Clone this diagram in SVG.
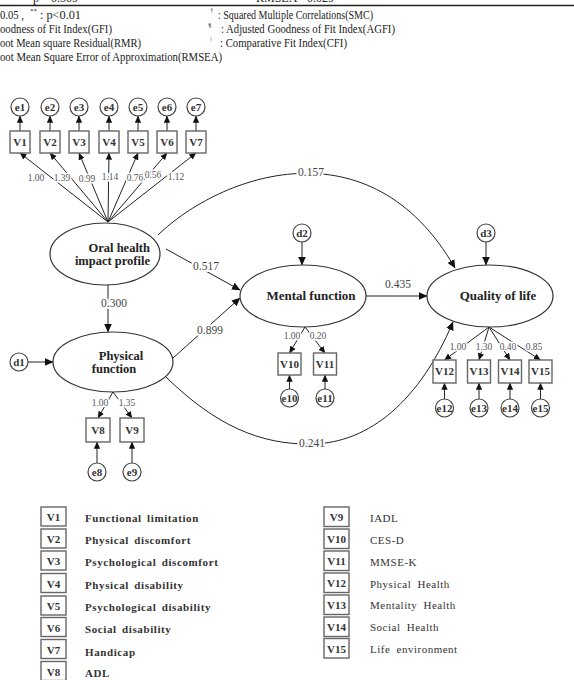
<svg xmlns="http://www.w3.org/2000/svg" width="574" height="680" viewBox="0 0 574 680">
<style>
text{font-family:"Liberation Serif","DejaVu Serif",serif;fill:#222}
.hd{font-size:12px}
.sup{font-size:7px}
.nd{font-size:13px;font-weight:bold;text-anchor:middle}
.bx{fill:#fff;stroke:#666;stroke-width:1.4}
.ci{fill:#fff;stroke:#444;stroke-width:1.2}
.bt{font-size:11px;font-weight:bold;text-anchor:middle;fill:#333}
.el{fill:#fff;stroke:#333;stroke-width:1.2}
.ln{fill:none;stroke:#222;stroke-width:1}
.lb{font-size:11.5px;text-anchor:middle;fill:#444;stroke:#fff;stroke-width:4;paint-order:stroke}
.cl{font-size:9.5px;text-anchor:middle;fill:#555;stroke:#fff;stroke-width:3;paint-order:stroke}
.lg{font-size:11px;font-weight:bold;letter-spacing:0.6px;word-spacing:2px;fill:#333}
.lr{font-size:11px;letter-spacing:0.5px;word-spacing:3px;fill:#333}
</style>
<defs>
<marker id="a" viewBox="0 0 10 10" refX="9.5" refY="5" markerWidth="8.5" markerHeight="8.5" markerUnits="userSpaceOnUse" orient="auto"><path d="M0,0.5L10,5L0,9.5z" fill="#111"/></marker>
<marker id="s" viewBox="0 0 10 10" refX="9.5" refY="5" markerWidth="7" markerHeight="7" markerUnits="userSpaceOnUse" orient="auto"><path d="M0,0.5L10,5L0,9.5z" fill="#111"/></marker>
</defs>
<rect width="574" height="680" fill="#fff"/>

<g id="notes">
<text class="hd" x="33" y="2">p</text>
<text class="hd" x="51" y="2">0.309</text>
<text class="hd" x="256" y="2">RMSEA</text>
<text class="hd" x="307" y="2">0.029</text>
<line x1="0" y1="5.5" x2="574" y2="5.5" stroke="#222" stroke-width="1.3"/>
<text class="hd" x="0" y="18.5" textLength="24" lengthAdjust="spacingAndGlyphs">0.05 ,</text>
<text class="sup" x="30" y="12.5">**</text>
<text class="hd" x="40" y="18.5" textLength="41" lengthAdjust="spacingAndGlyphs">: p&lt;0.01</text>
<text class="sup" x="210" y="12">†</text>
<text class="hd" x="218" y="18.5" textLength="155" lengthAdjust="spacingAndGlyphs">: Squared Multiple Correlations(SMC)</text>
<text class="hd" x="0" y="32.5" textLength="112" lengthAdjust="spacingAndGlyphs">oodness of Fit Index(GFI)</text>
<text class="sup" x="208" y="27">§</text>
<text class="hd" x="221" y="32.5" textLength="174" lengthAdjust="spacingAndGlyphs">: Adjusted Goodness of Fit Index(AGFI)</text>
<text class="hd" x="0" y="46.5" textLength="141" lengthAdjust="spacingAndGlyphs">oot Mean square Residual(RMR)</text>
<text class="sup" x="210" y="41" style="fill:#999">‖</text>
<text class="hd" x="220" y="46.5" textLength="127" lengthAdjust="spacingAndGlyphs">: Comparative Fit Index(CFI)</text>
<text class="hd" x="0" y="60.5" textLength="222" lengthAdjust="spacingAndGlyphs">oot Mean Square Error of Approximation(RMSEA)</text>
</g>

<g id="connectors">
<line class="ln" x1="20" y1="131" x2="20" y2="116" marker-end="url(#s)"/>
<line class="ln" x1="50" y1="131" x2="50" y2="116" marker-end="url(#s)"/>
<line class="ln" x1="79" y1="131" x2="79" y2="116" marker-end="url(#s)"/>
<line class="ln" x1="109" y1="131" x2="109" y2="116" marker-end="url(#s)"/>
<line class="ln" x1="138" y1="131" x2="138" y2="116" marker-end="url(#s)"/>
<line class="ln" x1="167" y1="131" x2="167" y2="116" marker-end="url(#s)"/>
<line class="ln" x1="196" y1="131" x2="196" y2="116" marker-end="url(#s)"/>
<line class="ln" x1="108" y1="222" x2="20" y2="153" marker-end="url(#s)"/>
<line class="ln" x1="108" y1="222" x2="50" y2="153" marker-end="url(#s)"/>
<line class="ln" x1="108" y1="222" x2="79" y2="153" marker-end="url(#s)"/>
<line class="ln" x1="108" y1="222" x2="109" y2="153" marker-end="url(#s)"/>
<line class="ln" x1="108" y1="222" x2="138" y2="153" marker-end="url(#s)"/>
<line class="ln" x1="108" y1="222" x2="167" y2="153" marker-end="url(#s)"/>
<line class="ln" x1="108" y1="222" x2="196" y2="153" marker-end="url(#s)"/>
<text class="cl" x="36" y="181">1.00</text>
<text class="cl" x="62" y="181">1.39</text>
<text class="cl" x="87" y="182">0.99</text>
<text class="cl" x="110" y="180">1.14</text>
<text class="cl" x="135" y="181">0.76</text>
<text class="cl" x="153" y="178">0.56</text>
<text class="cl" x="176" y="180">1.12</text>
<path class="ln" d="M158,235 C220,175 370,120 455,268" marker-end="url(#a)"/>
<text class="lb" x="311" y="176">0.157</text>
<line class="ln" x1="166" y1="249" x2="240" y2="290" marker-end="url(#a)"/>
<text class="lb" x="206" y="270">0.517</text>
<line class="ln" x1="108" y1="285" x2="108" y2="332" marker-end="url(#a)"/>
<text class="lb" x="114" y="307">0.300</text>
<line class="ln" x1="173" y1="358" x2="240" y2="298" marker-end="url(#a)"/>
<text class="lb" x="210" y="334">0.899</text>
<line class="ln" x1="28" y1="362" x2="53" y2="362" marker-end="url(#a)"/>
<line class="ln" x1="302" y1="242" x2="302" y2="265" marker-end="url(#a)"/>
<line class="ln" x1="486" y1="242" x2="486" y2="265" marker-end="url(#a)"/>
<line class="ln" x1="366" y1="296" x2="427" y2="296" marker-end="url(#a)"/>
<text class="lb" x="398" y="288">0.435</text>
<path class="ln" d="M166,377 C215,425 260,445 312,444 C370,443 420,400 453,322" marker-end="url(#a)"/>
<text class="lb" x="312" y="447">0.241</text>
<line class="ln" x1="113" y1="392" x2="98" y2="418" marker-end="url(#s)"/>
<line class="ln" x1="113" y1="392" x2="132" y2="418" marker-end="url(#s)"/>
<text class="cl" x="100" y="406">1.00</text>
<text class="cl" x="127" y="406">1.35</text>
<line class="ln" x1="97" y1="463" x2="97" y2="442" marker-end="url(#s)"/>
<line class="ln" x1="132" y1="463" x2="132" y2="442" marker-end="url(#s)"/>
<line class="ln" x1="305" y1="327" x2="289.5" y2="353" marker-end="url(#s)"/>
<line class="ln" x1="305" y1="327" x2="325" y2="353" marker-end="url(#s)"/>
<text class="cl" x="292" y="339">1.00</text>
<text class="cl" x="318" y="339">0.20</text>
<line class="ln" x1="289.5" y1="389" x2="289.5" y2="375" marker-end="url(#s)"/>
<line class="ln" x1="325" y1="389" x2="325" y2="375" marker-end="url(#s)"/>
<line class="ln" x1="489" y1="327" x2="444.5" y2="360" marker-end="url(#s)"/>
<line class="ln" x1="489" y1="327" x2="479" y2="360" marker-end="url(#s)"/>
<line class="ln" x1="489" y1="327" x2="510" y2="360" marker-end="url(#s)"/>
<line class="ln" x1="489" y1="327" x2="540.5" y2="360" marker-end="url(#s)"/>
<text class="cl" x="458" y="350">1.00</text>
<text class="cl" x="484" y="350">1.30</text>
<text class="cl" x="508" y="350">0.40</text>
<text class="cl" x="534" y="350">0.85</text>
<line class="ln" x1="444.5" y1="399" x2="444.5" y2="383" marker-end="url(#s)"/>
<line class="ln" x1="479" y1="399" x2="479" y2="383" marker-end="url(#s)"/>
<line class="ln" x1="510" y1="399" x2="510" y2="383" marker-end="url(#s)"/>
<line class="ln" x1="540.5" y1="399" x2="540.5" y2="383" marker-end="url(#s)"/>
</g>

<g id="e1"><circle class="ci" cx="20" cy="107" r="9"/><text class="bt" x="20" y="111">e1</text></g>
<g id="e2"><circle class="ci" cx="50" cy="107" r="9"/><text class="bt" x="50" y="111">e2</text></g>
<g id="e3"><circle class="ci" cx="79" cy="107" r="9"/><text class="bt" x="79" y="111">e3</text></g>
<g id="e4"><circle class="ci" cx="109" cy="107" r="9"/><text class="bt" x="109" y="111">e4</text></g>
<g id="e5"><circle class="ci" cx="138" cy="107" r="9"/><text class="bt" x="138" y="111">e5</text></g>
<g id="e6"><circle class="ci" cx="167" cy="107" r="9"/><text class="bt" x="167" y="111">e6</text></g>
<g id="e7"><circle class="ci" cx="196" cy="107" r="9"/><text class="bt" x="196" y="111">e7</text></g>

<g id="V1"><rect class="bx" x="10" y="131" width="20" height="22"/><text class="bt" x="20" y="146">V1</text></g>
<g id="V2"><rect class="bx" x="40" y="131" width="20" height="22"/><text class="bt" x="50" y="146">V2</text></g>
<g id="V3"><rect class="bx" x="69" y="131" width="20" height="22"/><text class="bt" x="79" y="146">V3</text></g>
<g id="V4"><rect class="bx" x="99" y="131" width="20" height="22"/><text class="bt" x="109" y="146">V4</text></g>
<g id="V5"><rect class="bx" x="128" y="131" width="20" height="22"/><text class="bt" x="138" y="146">V5</text></g>
<g id="V6"><rect class="bx" x="157" y="131" width="20" height="22"/><text class="bt" x="167" y="146">V6</text></g>
<g id="V7"><rect class="bx" x="186" y="131" width="20" height="22"/><text class="bt" x="196" y="146">V7</text></g>

<g id="oral"><ellipse class="el" cx="105" cy="254" rx="55" ry="31"/>
<text class="nd" x="150" y="252" style="text-anchor:end;font-size:12.5px">Oral health</text>
<text class="nd" x="150" y="265" style="text-anchor:end;font-size:12.5px">impact profile</text></g>

<g id="physical"><ellipse class="el" cx="113" cy="362" rx="60" ry="30"/>
<text class="nd" x="121" y="360" style="font-size:12.5px">Physical</text>
<text class="nd" x="114" y="373" style="font-size:12.5px">function</text></g>

<g id="d1"><circle class="ci" cx="19" cy="362" r="9"/><text class="bt" x="19" y="366">d1</text></g>
<g id="d2"><circle class="ci" cx="302" cy="233" r="9"/><text class="bt" x="302" y="237">d2</text></g>
<g id="d3"><circle class="ci" cx="486" cy="233" r="9"/><text class="bt" x="486" y="237">d3</text></g>

<g id="mental"><ellipse class="el" cx="303" cy="296" rx="63" ry="31"/>
<text class="nd" x="311" y="300">Mental function</text></g>
<g id="quality"><ellipse class="el" cx="490" cy="296" rx="63" ry="31"/>
<text class="nd" x="498" y="300">Quality of life</text></g>

<g id="V8"><rect class="bx" x="86" y="418" width="24" height="24"/><text class="bt" x="98" y="434">V8</text></g>
<g id="V9"><rect class="bx" x="120" y="418" width="24" height="24"/><text class="bt" x="132" y="434">V9</text></g>
<g id="e8"><circle class="ci" cx="97" cy="472" r="9"/><text class="bt" x="97" y="476">e8</text></g>
<g id="e9"><circle class="ci" cx="132" cy="472" r="9"/><text class="bt" x="132" y="476">e9</text></g>

<g id="V10"><rect class="bx" x="278" y="353" width="23" height="22"/><text class="bt" x="289.5" y="368">V10</text></g>
<g id="V11"><rect class="bx" x="313.5" y="353" width="23" height="22"/><text class="bt" x="325" y="368">V11</text></g>
<g id="e10"><circle class="ci" cx="289.5" cy="398" r="9"/><text class="bt" x="289.5" y="402">e10</text></g>
<g id="e11"><circle class="ci" cx="325" cy="398" r="9"/><text class="bt" x="325" y="402">e11</text></g>

<g id="V12"><rect class="bx" x="433" y="360" width="23" height="23"/><text class="bt" x="444.5" y="375">V12</text></g>
<g id="V13"><rect class="bx" x="467.5" y="360" width="23" height="23"/><text class="bt" x="479" y="375">V13</text></g>
<g id="V14"><rect class="bx" x="498.5" y="360" width="23" height="23"/><text class="bt" x="510" y="375">V14</text></g>
<g id="V15"><rect class="bx" x="529" y="360" width="23" height="23"/><text class="bt" x="540.5" y="375">V15</text></g>
<g id="e12"><circle class="ci" cx="444.5" cy="408" r="9"/><text class="bt" x="444.5" y="412">e12</text></g>
<g id="e13"><circle class="ci" cx="479" cy="408" r="9"/><text class="bt" x="479" y="412">e13</text></g>
<g id="e14"><circle class="ci" cx="510" cy="408" r="9"/><text class="bt" x="510" y="412">e14</text></g>
<g id="e15"><circle class="ci" cx="540.5" cy="408" r="9"/><text class="bt" x="540.5" y="412">e15</text></g>

<g id="legend">
<rect class="bx" x="41" y="507" width="25" height="19"/><text class="bt" x="53.5" y="521">V1</text><text class="lg" x="85" y="522">Functional limitation</text>
<rect class="bx" x="41" y="529" width="25" height="19"/><text class="bt" x="53.5" y="543">V2</text><text class="lg" x="85" y="544">Physical discomfort</text>
<rect class="bx" x="41" y="551" width="25" height="19"/><text class="bt" x="53.5" y="565">V3</text><text class="lg" x="85" y="566">Psychological discomfort</text>
<rect class="bx" x="41" y="573.5" width="25" height="19"/><text class="bt" x="53.5" y="587.5">V4</text><text class="lg" x="85" y="588.5">Physical disability</text>
<rect class="bx" x="41" y="596" width="25" height="19"/><text class="bt" x="53.5" y="610">V5</text><text class="lg" x="85" y="611">Psychological disability</text>
<rect class="bx" x="41" y="617.5" width="25" height="19"/><text class="bt" x="53.5" y="631.5">V6</text><text class="lg" x="85" y="633">Social disability</text>
<rect class="bx" x="41" y="639.5" width="25" height="19"/><text class="bt" x="53.5" y="653.5">V7</text><text class="lg" x="85" y="656">Handicap</text>
<rect class="bx" x="41" y="661.5" width="25" height="19"/><text class="bt" x="53.5" y="675.5">V8</text><text class="lg" x="85" y="677">ADL</text>
<rect class="bx" x="324" y="507" width="25" height="19.5"/><text class="bt" x="336.5" y="521">V9</text><text class="lr" x="370" y="522">IADL</text>
<rect class="bx" x="324" y="529" width="25" height="19.5"/><text class="bt" x="336.5" y="543">V10</text><text class="lr" x="370" y="544">CES-D</text>
<rect class="bx" x="324" y="551" width="25" height="19.5"/><text class="bt" x="336.5" y="565">V11</text><text class="lr" x="370" y="566">MMSE-K</text>
<rect class="bx" x="324" y="573" width="25" height="19.5"/><text class="bt" x="336.5" y="587">V12</text><text class="lr" x="370" y="588">Physical Health</text>
<rect class="bx" x="324" y="595" width="25" height="19.5"/><text class="bt" x="336.5" y="609">V13</text><text class="lr" x="370" y="609">Mentality Health</text>
<rect class="bx" x="324" y="617" width="25" height="19.5"/><text class="bt" x="336.5" y="631">V14</text><text class="lr" x="370" y="631">Social Health</text>
<rect class="bx" x="324" y="638.5" width="25" height="19.5"/><text class="bt" x="336.5" y="652.5">V15</text><text class="lr" x="370" y="653">Life environment</text>
</g>
</svg>
